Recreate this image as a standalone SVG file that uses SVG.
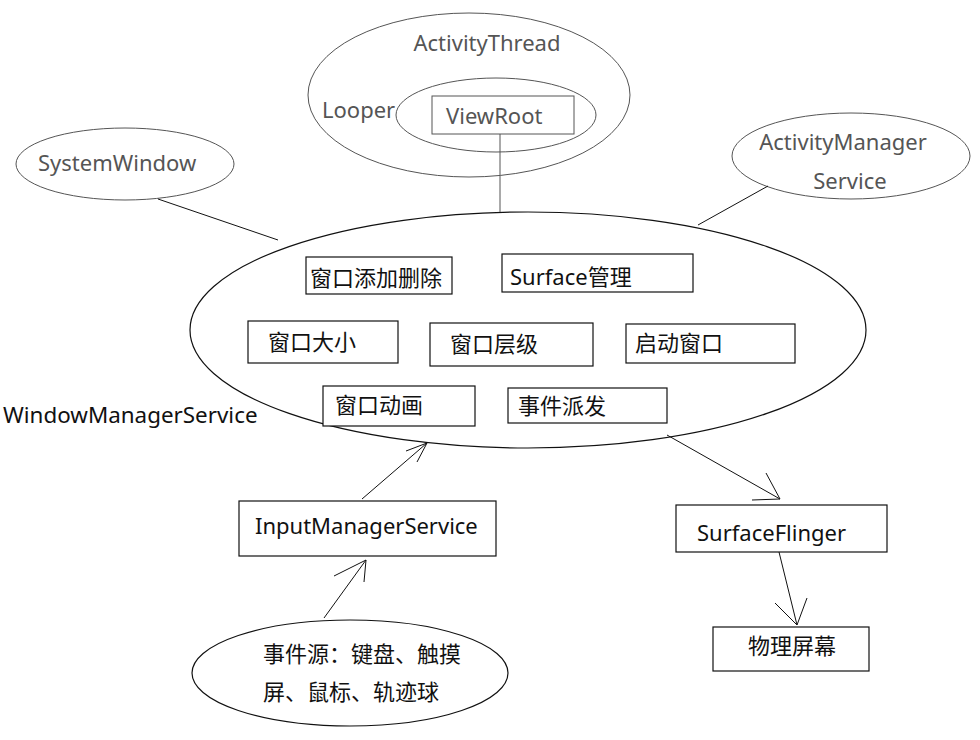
<svg xmlns="http://www.w3.org/2000/svg" width="980" height="740" viewBox="0 0 980 740">
<style>
text{font-family:"Noto Sans","Noto Sans CJK SC",sans-serif;font-size:22px;fill:#111}
.g{fill:#555}
.ge{fill:none;stroke:#555;stroke-width:1}
.b{fill:#fff;stroke:#111;stroke-width:1.2}
.e{fill:none;stroke:#111;stroke-width:1.2}
.c{fill:none;stroke:#111;stroke-width:1}
</style>
<rect width="980" height="740" fill="#fff"/>
<g id="activityThread">
<ellipse class="ge" cx="469" cy="95" rx="161" ry="82"/>
<text class="g" x="487" y="51" text-anchor="middle">ActivityThread</text>
</g>
<g id="looper">
<ellipse class="ge" cx="496" cy="115" rx="100" ry="37"/>
<text class="g" x="322" y="118">Looper</text>
</g>
<g id="viewRoot">
<rect x="432" y="96" width="142" height="38" fill="none" stroke="#555"/>
<text class="g" x="446" y="124">ViewRoot</text>
</g>
<g id="systemWindow">
<ellipse class="ge" cx="125" cy="164" rx="109" ry="36"/>
<text class="g" x="38" y="171">SystemWindow</text>
</g>
<g id="activityManagerService">
<ellipse class="ge" cx="851" cy="156" rx="119" ry="43"/>
<text class="g" x="843" y="150" text-anchor="middle">ActivityManager</text>
<text class="g" x="850" y="189" text-anchor="middle">Service</text>
</g>
<g id="windowManagerService">
<ellipse class="e" cx="528" cy="330" rx="338" ry="118"/>
<text x="3" y="423" style="font-size:22.4px">WindowManagerService</text>
</g>
<g id="wmsAddRemove"><rect class="b" x="306" y="257" width="146" height="37"/><text x="310" y="286">窗口添加删除</text></g>
<g id="wmsSurface"><rect class="b" x="502" y="254" width="191" height="38"/><text x="510" y="285">Surface管理</text></g>
<g id="wmsSize"><rect class="b" x="248" y="321" width="150" height="42"/><text x="268" y="350">窗口大小</text></g>
<g id="wmsLayer"><rect class="b" x="430" y="323" width="163" height="43"/><text x="450" y="352">窗口层级</text></g>
<g id="wmsStartWindow"><rect class="b" x="626" y="324" width="169" height="39"/><text x="635" y="351">启动窗口</text></g>
<g id="wmsAnimation"><rect class="b" x="323" y="386" width="152" height="40"/><text x="335" y="413">窗口动画</text></g>
<g id="wmsDispatch"><rect class="b" x="508" y="388" width="159" height="35"/><text x="518" y="414">事件派发</text></g>
<g id="inputManagerService"><rect class="b" x="239" y="501" width="257" height="55"/><text x="255" y="534">InputManagerService</text></g>
<g id="eventSource">
<ellipse class="e" cx="350" cy="673" rx="158" ry="53"/>
<text x="263" y="662">事件源：键盘、触摸</text>
<text x="263" y="700">屏、鼠标、轨迹球</text>
</g>
<g id="surfaceFlinger"><rect class="b" x="676" y="505" width="211" height="47"/><text x="697" y="541">SurfaceFlinger</text></g>
<g id="screen"><rect class="b" x="713" y="627" width="156" height="44"/><text x="748" y="654">物理屏幕</text></g>
<g id="connectors">
<line x1="500" y1="134" x2="500" y2="212" stroke="#555" stroke-width="1"/>
<line class="c" x1="158" y1="199" x2="278" y2="240"/>
<line class="c" x1="768" y1="186" x2="698" y2="225"/>
<path class="c" d="M362 499 L427 443 M406 451 L427 443 L417 462"/>
<path class="c" d="M324 618 L366 560 M334 576 L366 560 L364 582"/>
<path class="c" d="M667 435 L780 499 M766 473 L780 499 L752 500"/>
<path class="c" d="M779 552 L797 625 M775 603 L797 625 L807 598"/>
</g>
</svg>
